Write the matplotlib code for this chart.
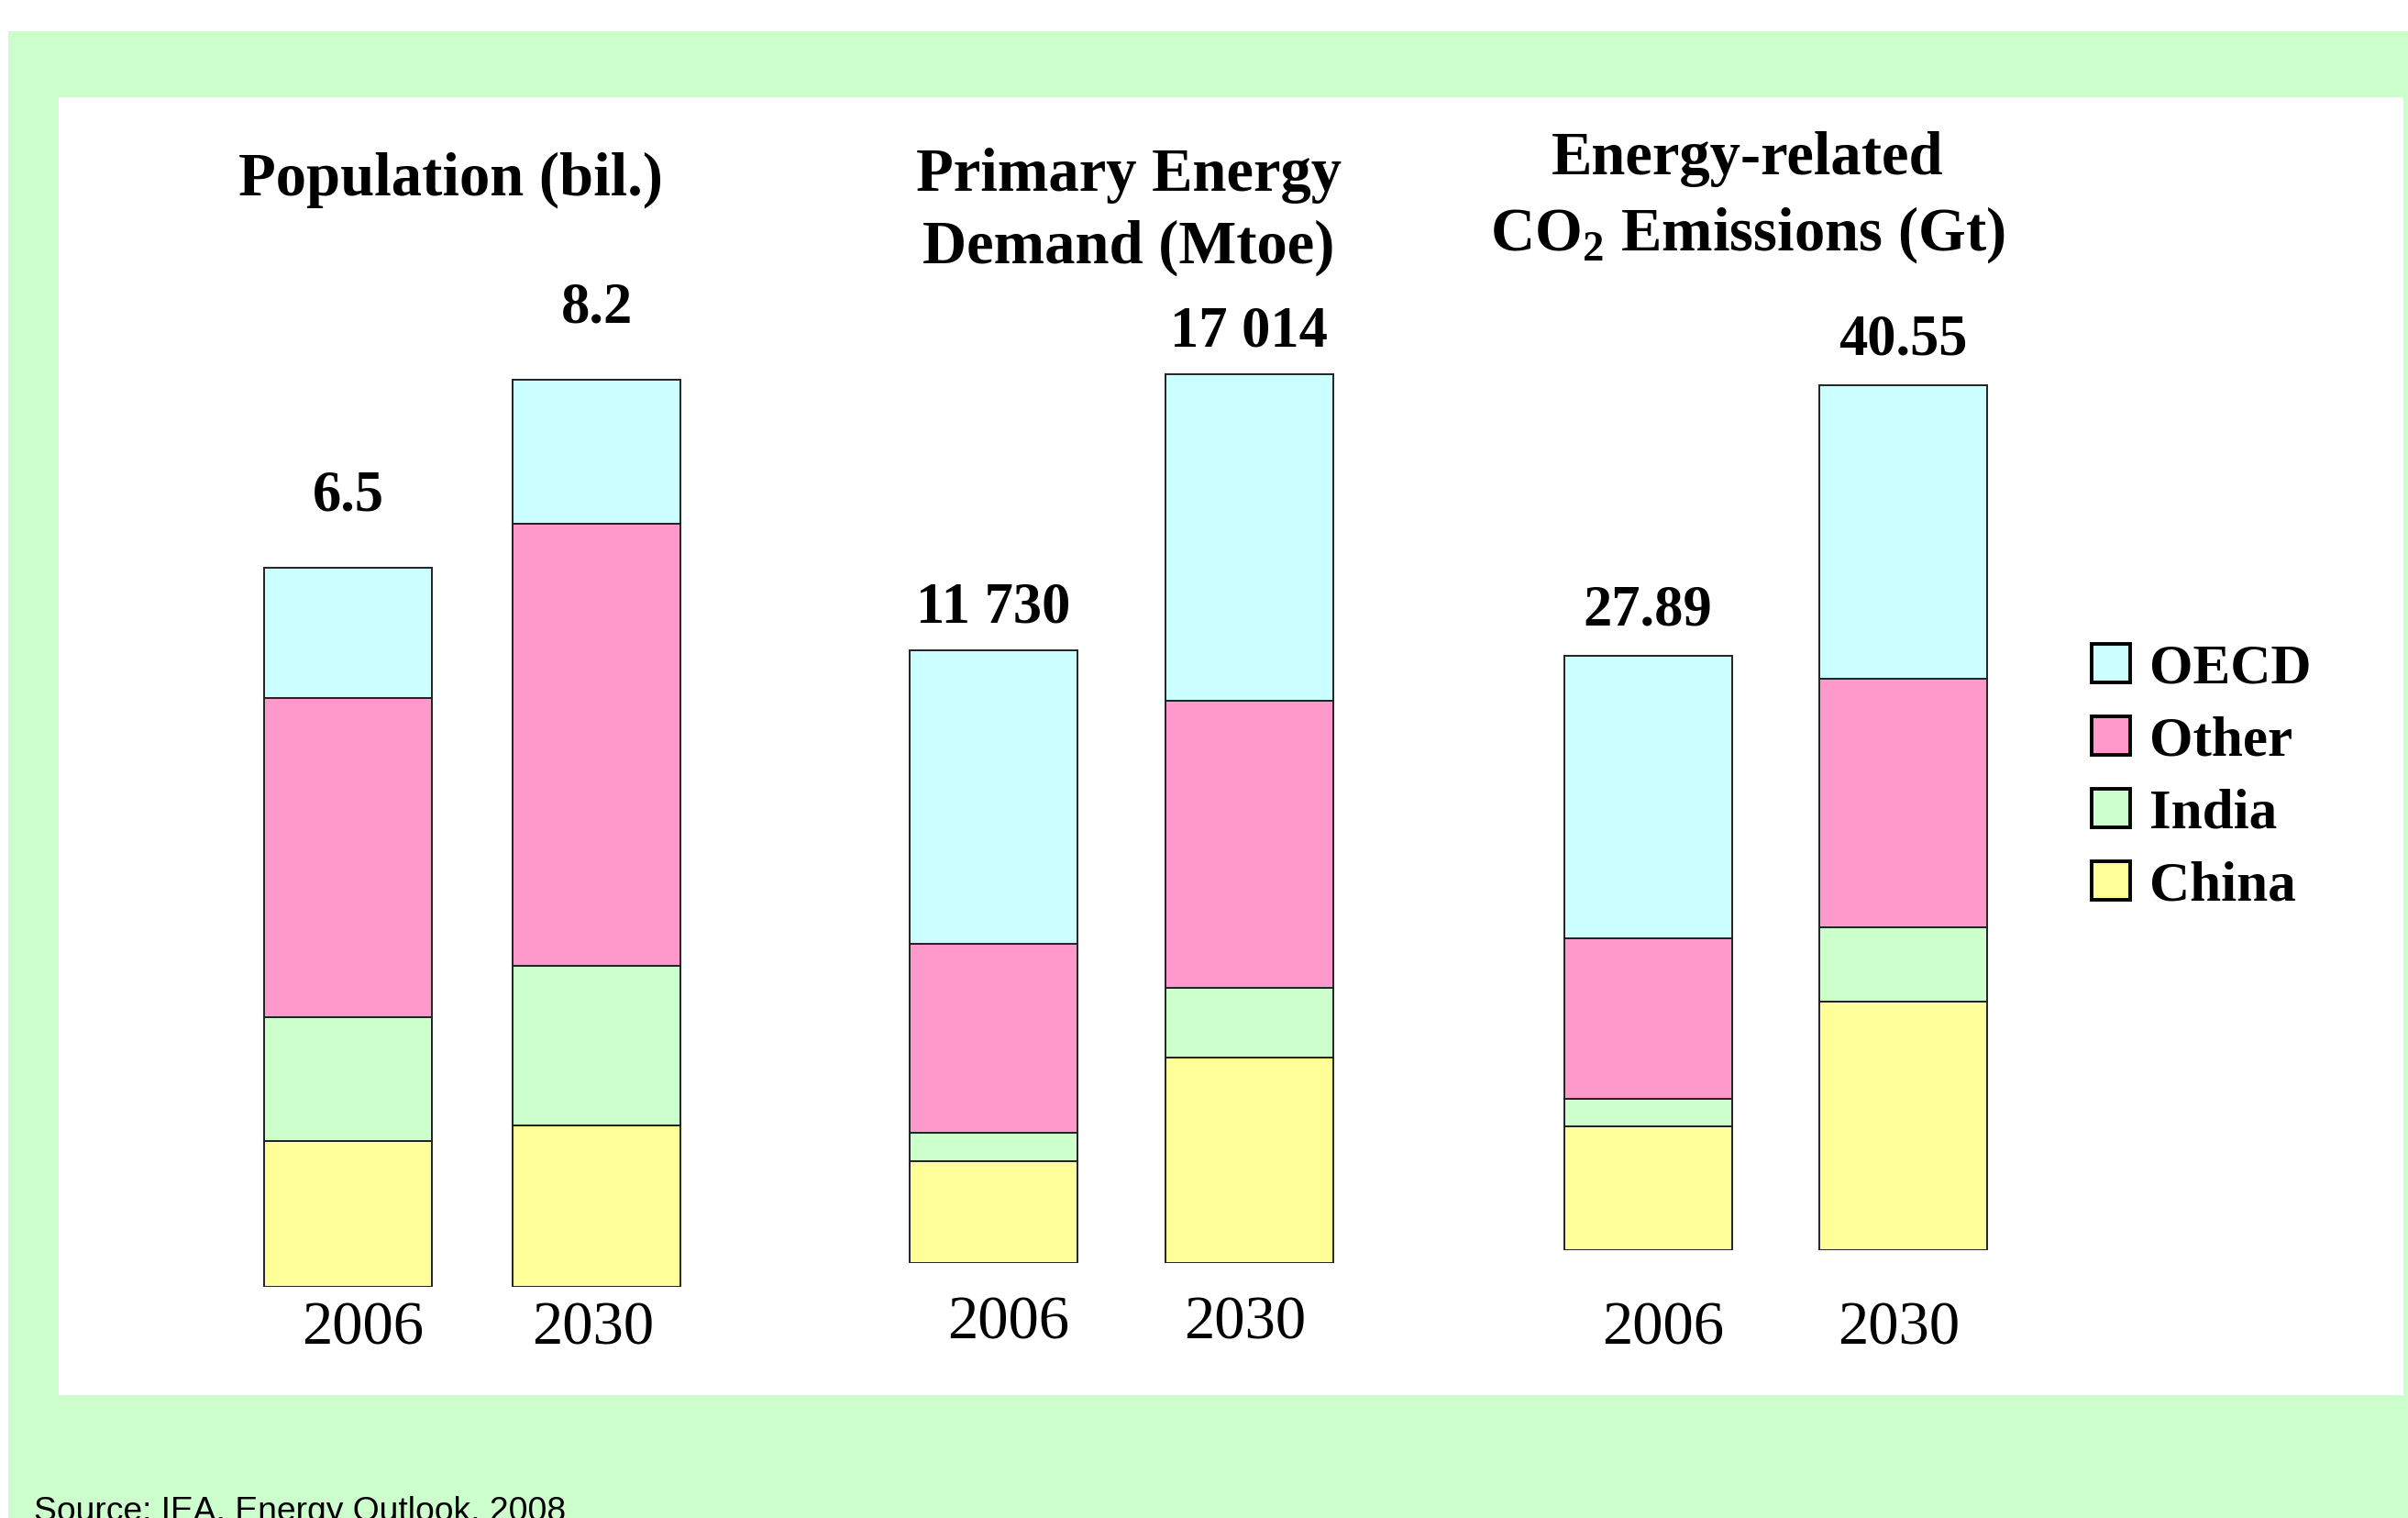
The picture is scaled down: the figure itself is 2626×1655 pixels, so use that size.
import matplotlib
matplotlib.use("Agg")
import matplotlib.pyplot as plt
from matplotlib.patches import Rectangle, Patch
from matplotlib.transforms import blended_transform_factory

# --- data ---
years = ["2006", "2030"]
regions = ["China", "India", "Other", "OECD"]  # stacked bottom -> top

pop_china = [1.32, 1.46]
pop_india = [1.12, 1.44]
pop_other = [2.88, 4.00]
pop_oecd = [1.18, 1.30]
pop_totals = ["6.5", "8.2"]

energy_china = [1942, 3938]
energy_india = [559, 1322]
energy_other = [3611, 5495]
energy_oecd = [5618, 6259]
energy_totals = ["11 730", "17 014"]

co2_china = [5.81, 11.66]
co2_india = [1.29, 3.48]
co2_other = [7.53, 11.66]
co2_oecd = [13.26, 13.75]
co2_totals = ["27.89", "40.55"]

colors = {"China": "#FFFF99", "India": "#CCFFCC", "Other": "#FF99CC", "OECD": "#CCFFFF"}

W, H = 2626, 1655
plt.rcParams["font.family"] = ["Liberation Serif", "DejaVu Serif"]
plt.rcParams["mathtext.fontset"] = "custom"
plt.rcParams["mathtext.rm"] = "Liberation Serif"
plt.rcParams["mathtext.bf"] = "Liberation Serif:bold"

fig = plt.figure(figsize=(W / 100, H / 100), dpi=100)
fig.patch.set_facecolor("white")


def fx(px):
    return px / W


def fy(py):
    return 1 - py / H


# green frame + white panel
fig.patches.append(Rectangle((fx(9), 0), 1 - fx(9), fy(34), transform=fig.transFigure,
                             facecolor="#CCFFCC", edgecolor="none", zorder=-10))
fig.patches.append(Rectangle((fx(64), fy(1521)), fx(2621) - fx(64), fy(106) - fy(1521),
                             transform=fig.transFigure, facecolor="white", edgecolor="none", zorder=-9))

panels = [
    dict(stacks=[pop_china, pop_india, pop_other, pop_oecd], totals=pop_totals,
         left=244, dist=271, bottom=1403, ppu=120.6, ymax=9, pad=45, year_y=1465,
         title=["Population (bil.)"], title_x=491, title_y=[196]),
    dict(stacks=[energy_china, energy_india, energy_other, energy_oecd], totals=energy_totals,
         left=943.5, dist=279, bottom=1377, ppu=0.05696, ymax=20000, pad=22, year_y=1460,
         title=["Primary Energy", "Demand (Mtoe)"], title_x=1231, title_y=[191, 270]),
    dict(stacks=[co2_china, co2_india, co2_other, co2_oecd], totals=co2_totals,
         left=1658, dist=278, bottom=1363, ppu=23.25, ymax=45, pad=24, year_y=1465,
         title=["Energy-related", r"CO$_{\mathbf{2}}$ Emissions (Gt)"], title_x=1906, title_y=[174, 256]),
]

for p in panels:
    ax = fig.add_axes([fx(p["left"]), fy(p["bottom"]), fx(2 * p["dist"]), p["ymax"] * p["ppu"] / H])
    ax.set_xlim(-0.5, 1.5)
    ax.set_ylim(0, p["ymax"])
    ax.axis("off")
    width = 183 / p["dist"]
    x = list(range(len(years)))
    base = [0] * len(years)
    for name, vals in zip(regions, p["stacks"]):
        ax.bar(x, vals, width=width, bottom=base, color=colors[name],
               edgecolor="#222222", linewidth=1.4)
        base = [b + v for b, v in zip(base, vals)]

    for i, lab in enumerate(p["totals"]):
        ax.annotate(lab, (i, base[i]), xytext=(0, p["pad"]), textcoords="offset points",
                    ha="center", va="baseline", fontsize=45, fontweight="bold")

    trans = blended_transform_factory(ax.transData, fig.transFigure)
    for i, yr in enumerate(years):
        shift = 0.06 if i == 0 else -0.015
        ax.text(i + shift, fy(p["year_y"]), yr, transform=trans, ha="center",
                va="baseline", fontsize=48)

    for line, ty in zip(p["title"], p["title_y"]):
        fig.text(fx(p["title_x"]), fy(ty), line, ha="center", va="center",
                 fontsize=48, fontweight="bold")

# legend (top entry first)
handles = [Patch(facecolor=colors[r], edgecolor="black", linewidth=2.8) for r in regions[::-1]]
fig.legend(handles, regions[::-1], loc="center left", bbox_to_anchor=(fx(2281), fy(848)),
           frameon=False, prop={"weight": "bold", "size": 44},
           handlelength=0.68, handleheight=0.68, handletextpad=0.35, labelspacing=0.38,
           borderpad=0, borderaxespad=0)

fig.text(fx(37), fy(1658), "Source: IEA, Energy Outlook, 2008", ha="left", va="baseline",
         fontsize=26.8, family=["Liberation Sans", "DejaVu Sans"])

fig.savefig("out.png", dpi=100, facecolor="white")
